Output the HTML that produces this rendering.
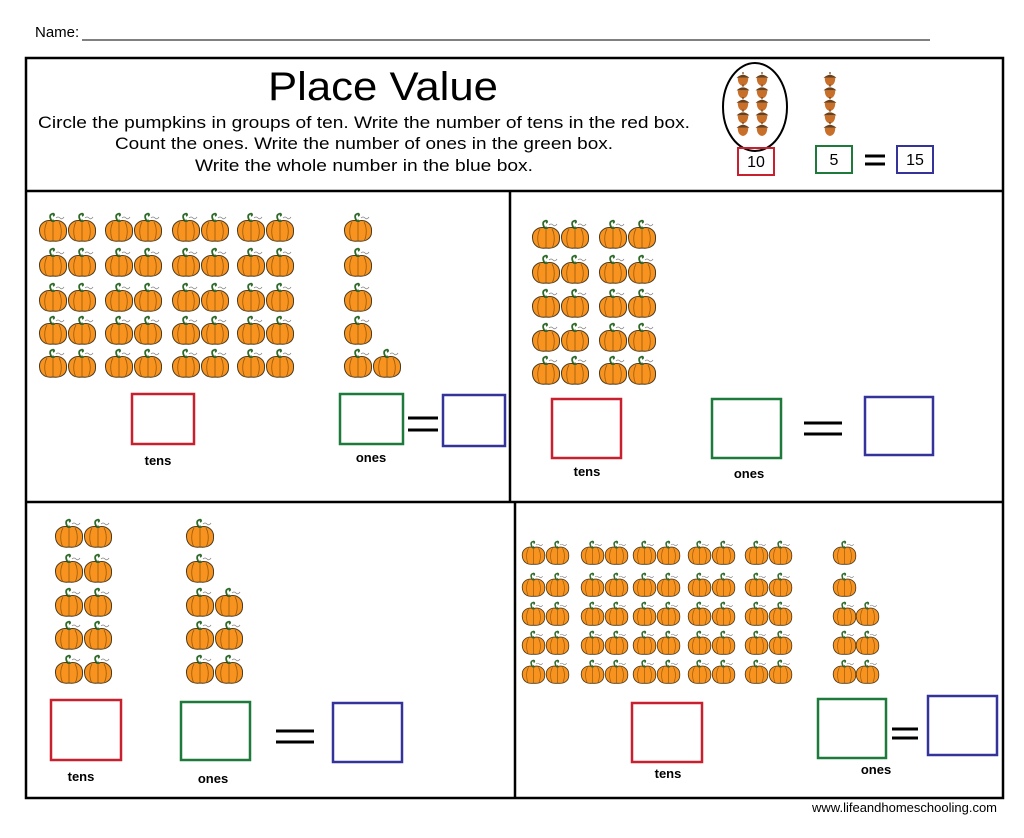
<!DOCTYPE html>
<html><head><meta charset="utf-8"><style>
html,body{margin:0;padding:0;background:#fff;}
svg{display:block;font-family:"Liberation Sans",sans-serif;}
</style></head><body>
<svg id="s" width="1024" height="838" viewBox="0 0 1024 838" xmlns="http://www.w3.org/2000/svg">
<defs>
<symbol id="pk" viewBox="0 0 30 30">
<path d="M14 10 C12 6 11 3 14 2 C16 1 17 3 15 4" fill="none" stroke="#2e6b2a" stroke-width="1.8"/>
<path d="M18 6 q2 -2 4 0 q2 2 4 -1" fill="none" stroke="#888" stroke-width="0.8"/>
<path d="M15 9 C7 7 1 12 1.5 19 C2 27 8 30 15 29 C22 30 29 27 28.5 19 C29 12 23 7 15 9Z" fill="#f7931e" stroke="#4a3a20" stroke-width="1"/>
<path d="M9 10 C6 15 6 24 9 29 M15 9 V29 M21 10 C24 15 24 24 21 29" fill="none" stroke="#9a5a10" stroke-width="0.8"/>
<path d="M13 10 l2 -3 l2 3z" fill="#2e6b2a"/>
</symbol>
<symbol id="ac" viewBox="0 0 12 12">
<path d="M0.5 5 Q6 0 11.5 5 Z" fill="#6b3f1a"/>
<path d="M1.5 5 H10.5 Q10.5 11 6 12 Q1.5 11 1.5 5Z" fill="#c8702a"/>
<rect x="5.5" y="0" width="1" height="2" fill="#6b3f1a"/>
</symbol>
</defs>
<text x="35" y="37" font-size="15">Name:</text>
<line x1="82" y1="40" x2="930" y2="40" stroke="#000" stroke-width="1"/>
<rect x="26" y="58" width="977" height="740" fill="none" stroke="#000" stroke-width="2.5"/>
<line x1="26" y1="191" x2="1003" y2="191" stroke="#000" stroke-width="2.5"/>
<line x1="26" y1="502" x2="1003" y2="502" stroke="#000" stroke-width="2.5"/>
<line x1="510" y1="191" x2="510" y2="502" stroke="#000" stroke-width="2.5"/>
<line x1="515" y1="502" x2="515" y2="798" stroke="#000" stroke-width="2.5"/>
<text x="268" y="100" font-size="40" textLength="230" lengthAdjust="spacingAndGlyphs">Place Value</text>
<g font-size="16.5">
<text x="38" y="128" textLength="652" lengthAdjust="spacingAndGlyphs">Circle the pumpkins in groups of ten. Write the number of tens in the red box.</text>
<text x="115" y="149" textLength="498" lengthAdjust="spacingAndGlyphs">Count the ones. Write the number of ones in the green box.</text>
<text x="195" y="171" textLength="338" lengthAdjust="spacingAndGlyphs">Write the whole number in the blue box.</text>
</g>
<ellipse cx="755" cy="107" rx="32" ry="44" fill="none" stroke="#000" stroke-width="2"/>
<g id="acorns"></g>
<g stroke-width="2" fill="none">
<rect x="738" y="148" width="36" height="27" stroke="#c8202e"/>
<rect x="816" y="146" width="36" height="27" stroke="#1e7a3a"/>
<rect x="897" y="146" width="36" height="27" stroke="#33339a"/>
</g>
<g font-size="16" text-anchor="middle">
<text x="756" y="167">10</text><text x="834" y="165">5</text><text x="915" y="165">15</text>
</g>
<g stroke="#000" stroke-width="3"><line x1="865" y1="156" x2="885" y2="156"/><line x1="865" y1="164" x2="885" y2="164"/></g>
<g id="pks"></g>
<g id="boxes" fill="none" stroke-width="2.5"></g>
<g font-size="13" font-weight="bold" text-anchor="middle">
<text x="158" y="465">tens</text><text x="371" y="462">ones</text>
<text x="587" y="476">tens</text><text x="749" y="478">ones</text>
<text x="81" y="781">tens</text><text x="213" y="783">ones</text>
<text x="668" y="778">tens</text><text x="876" y="774">ones</text>
</g>
<text x="997" y="812" font-size="13" text-anchor="end">www.lifeandhomeschooling.com</text>
</svg>
<script>
var NS="http://www.w3.org/2000/svg";
function use(g,id,x,y,w,h){var u=document.createElementNS(NS,"use");u.setAttribute("href","#"+id);u.setAttribute("x",x);u.setAttribute("y",y);u.setAttribute("width",w);u.setAttribute("height",h);document.getElementById(g).appendChild(u);}
for(var r=0;r<5;r++){use("acorns","ac",736,72+r*12.5,14,14);use("acorns","ac",755,72+r*12.5,14,14);use("acorns","ac",823,72+r*12.5,14,14);}
function grid(xs,ys,s){ys.forEach(function(y){xs.forEach(function(x){use("pks","pk",x,y,s,s);});});}
grid([38,67,104,133,171,200,236,265],[212,247,282,315,348],30);
grid([343],[212,247,282,315,348],30);use("pks","pk",372,348,30,30);
grid([531,560,598,627],[219,254,288,322,355],30);
grid([54,83],[518,553,587,620,654],30);
grid([185],[518,553],30);grid([185,214],[587,620,654],30);
grid([521,545,580,604,632,656,687,711,744,768],[540,572,601,630,659],25);
grid([832],[540,572],25);grid([832,855],[601,630,659],25);
var B=[[132,394,62,50,"#c8202e"],[340,394,63,50,"#1e7a3a"],[443,395,62,51,"#33339a"],
[552,399,69,59,"#c8202e"],[712,399,69,59,"#1e7a3a"],[865,397,68,58,"#33339a"],
[51,700,70,60,"#c8202e"],[181,702,69,58,"#1e7a3a"],[333,703,69,59,"#33339a"],
[632,703,70,59,"#c8202e"],[818,699,68,59,"#1e7a3a"],[928,696,69,59,"#33339a"]];
B.forEach(function(b){var r=document.createElementNS(NS,"rect");r.setAttribute("x",b[0]);r.setAttribute("y",b[1]);r.setAttribute("width",b[2]);r.setAttribute("height",b[3]);r.setAttribute("stroke",b[4]);document.getElementById("boxes").appendChild(r);});
var E=[[408,438,418,430],[804,842,423,434],[276,314,731,742],[892,918,729,738]];
E.forEach(function(e){[e[2],e[3]].forEach(function(y){var l=document.createElementNS(NS,"line");l.setAttribute("x1",e[0]);l.setAttribute("x2",e[1]);l.setAttribute("y1",y);l.setAttribute("y2",y);l.setAttribute("stroke","#000");l.setAttribute("stroke-width","3");document.getElementById("boxes").appendChild(l);});});
</script>
</body></html>
